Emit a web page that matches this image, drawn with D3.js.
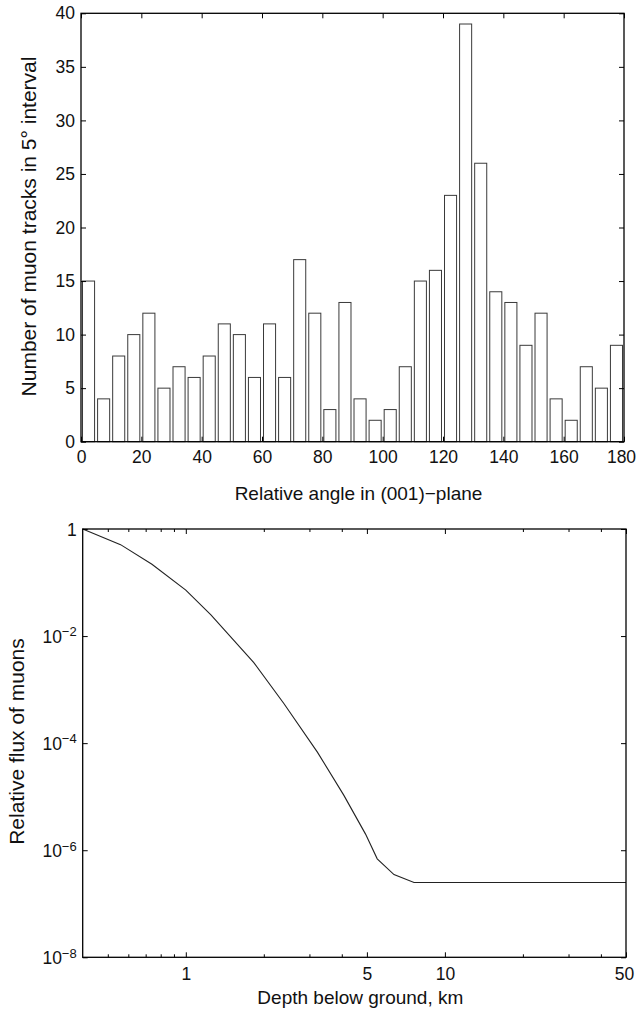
<!DOCTYPE html>
<html>
<head>
<meta charset="utf-8">
<script src="https://cdn.jsdelivr.net/npm/d3@7"></script>
<style>
  html, body { margin: 0; padding: 0; background: #fff; }
  svg { display: block; }
  text { font-family: "Liberation Sans", Arial, Helvetica, sans-serif; fill: #111; }
</style>
</head>
<body>
<svg id="fig" width="637" height="1019"></svg>
<script>
// ---- Histogram: muon tracks per 5° bin of relative angle ----
const binCenters = [2.5, 7.5, 12.5, 17.5, 22.5, 27.5, 32.5, 37.5, 42.5, 47.5, 52.5, 57.5,
                    62.5, 67.5, 72.5, 77.5, 82.5, 87.5, 92.5, 97.5, 102.5, 107.5, 112.5, 117.5,
                    122.5, 127.5, 132.5, 137.5, 142.5, 147.5, 152.5, 157.5, 162.5, 167.5, 172.5, 177.5];
const trackCounts = [15, 4, 8, 10, 12, 5, 7, 6, 8, 11, 10, 6,
                     11, 6, 17, 12, 3, 13, 4, 2, 3, 7, 15, 16,
                     23, 39, 26, 14, 13, 9, 12, 4, 2, 7, 5, 9];
const angleTicks = [0, 20, 40, 60, 80, 100, 120, 140, 160, 180];
const countTicks = [0, 5, 10, 15, 20, 25, 30, 35, 40];

// ---- Muon flux vs depth ----
const depthKm = [0.4, 0.56, 0.74, 1.0, 1.25, 1.83, 2.39, 3.22, 4.07, 4.94, 5.48, 6.36, 7.6, 50];
const relFlux = [1.0, 0.51, 0.22, 0.072, 0.0248, 0.0032, 5.5e-4, 6.8e-5, 1.07e-5, 2.0e-6, 6.9e-7, 3.5e-7, 2.5e-7, 2.5e-7];
const depthMajorTicks = [1, 5, 10, 50];
const depthMinorTicks = [0.5, 0.6, 0.7, 0.8, 0.9, 2, 3, 4, 20, 30, 40];
const fluxTicks = [1, 1e-2, 1e-4, 1e-6, 1e-8];

const svg = d3.select("#fig");
const TICK_FS = 17.5, XLABEL_FS = 19, YLABEL_FS = 21;

function frame(g, x0, x1, y0, y1) {
  g.append("rect")
    .attr("x", x0).attr("y", y0)
    .attr("width", x1 - x0).attr("height", y1 - y0)
    .attr("fill", "none").attr("stroke", "#000").attr("stroke-width", 1.3);
}

function styleAxis(sel) {
  sel.select(".domain").remove();
  sel.selectAll(".tick line").attr("stroke", "#000").attr("stroke-width", 1);
  sel.selectAll(".tick text").attr("font-size", TICK_FS).attr("fill", "#111")
     .attr("font-family", "Liberation Sans, Arial, sans-serif");
}

// keep the rightmost tick label inside the figure edge
function pullLastLabelIn(sel, px) {
  const texts = sel.selectAll(".tick text").nodes();
  if (texts.length) d3.select(texts[texts.length - 1]).attr("dx", -px);
}

// ================= Top panel =================
{
  const L = 81, R = 624, T = 13.3, B = 441.7;
  const x = d3.scaleLinear().domain([0, 180]).range([L, R]);
  const y = d3.scaleLinear().domain([0, 40]).range([B, T]);
  const g = svg.append("g");
  const halfW = 2; // bar half-width in degrees

  g.selectAll("rect.bar")
    .data(binCenters.map((c, i) => ({ c, v: trackCounts[i] })))
    .join("rect")
    .attr("class", "bar")
    .attr("x", d => x(d.c - halfW))
    .attr("width", d => x(d.c + halfW) - x(d.c - halfW))
    .attr("y", d => y(d.v))
    .attr("height", d => y(0) - y(d.v))
    .attr("fill", "#fff")
    .attr("stroke", "#3a3a3a")
    .attr("stroke-width", 1);

  g.append("g").attr("transform", `translate(0,${B})`)
    .call(d3.axisBottom(x).tickValues(angleTicks).tickSize(-5).tickPadding(9))
    .call(styleAxis)
    .call(pullLastLabelIn, 3);
  g.append("g").attr("transform", `translate(0,${T})`)
    .call(d3.axisTop(x).tickValues(angleTicks).tickSize(-5).tickFormat(""))
    .call(styleAxis);
  g.append("g").attr("transform", `translate(${L},0)`)
    .call(d3.axisLeft(y).tickValues(countTicks).tickSize(-5).tickPadding(6))
    .call(styleAxis);
  g.append("g").attr("transform", `translate(${R},0)`)
    .call(d3.axisRight(y).tickValues(countTicks).tickSize(-5).tickFormat(""))
    .call(styleAxis);

  frame(g, L, R, T, B);

  g.append("text")
    .attr("x", (L + R) / 2 + 6).attr("y", 500)
    .attr("text-anchor", "middle").attr("font-size", XLABEL_FS)
    .text("Relative angle in (001)\u2212plane");
  g.append("text")
    .attr("transform", `translate(36,226.5) rotate(-90)`)
    .attr("text-anchor", "middle").attr("font-size", YLABEL_FS)
    .text("Number of muon tracks in 5\u00B0 interval");
}

// ================= Bottom panel =================
{
  const L = 82.7, R = 626, T = 529, B = 957.3;
  const x = d3.scaleLog().domain([0.4, 50]).range([L, R]);
  const y = d3.scaleLog().domain([1e-8, 1]).range([B, T]);
  const g = svg.append("g");

  const line = d3.line()
    .x((d, i) => x(depthKm[i]))
    .y((d, i) => y(relFlux[i]));
  g.append("path")
    .datum(relFlux)
    .attr("d", line)
    .attr("fill", "none")
    .attr("stroke", "#222")
    .attr("stroke-width", 1.1);

  // x axis: major ticks with labels, minor ticks shorter
  g.append("g").attr("transform", `translate(0,${B})`)
    .call(d3.axisBottom(x).tickValues(depthMajorTicks).tickSize(-5).tickPadding(10)
      .tickFormat(d3.format("d")))
    .call(styleAxis)
    .call(pullLastLabelIn, 2);
  g.append("g").attr("transform", `translate(0,${B})`)
    .call(d3.axisBottom(x).tickValues(depthMinorTicks).tickSize(-3).tickFormat(""))
    .call(styleAxis);
  g.append("g").attr("transform", `translate(0,${T})`)
    .call(d3.axisTop(x).tickValues(depthMajorTicks).tickSize(-5).tickFormat(""))
    .call(styleAxis);
  g.append("g").attr("transform", `translate(0,${T})`)
    .call(d3.axisTop(x).tickValues(depthMinorTicks).tickSize(-3).tickFormat(""))
    .call(styleAxis);

  // y axis: powers of ten with superscript exponents
  const yAxis = g.append("g").attr("transform", `translate(${L},0)`)
    .call(d3.axisLeft(y).tickValues(fluxTicks).tickSize(-5).tickPadding(6).tickFormat(""))
    .call(styleAxis);
  yAxis.selectAll(".tick").each(function (d) {
    const t = d3.select(this).select("text");
    const e = Math.round(Math.log10(d));
    t.text(null).attr("dy", null).attr("y", 0).attr("text-anchor", "end");
    if (e === 0) {
      t.append("tspan").attr("dy", "0.36em").text("1");
    } else {
      t.append("tspan").attr("dy", "0.36em").text("10");
      t.append("tspan").attr("dy", "-0.5em").attr("font-size", 13)
        .text("\u2212" + Math.abs(e));
    }
  });
  g.append("g").attr("transform", `translate(${R},0)`)
    .call(d3.axisRight(y).tickValues(fluxTicks).tickSize(-5).tickFormat(""))
    .call(styleAxis);

  frame(g, L, R, T, B);

  g.append("text")
    .attr("x", (L + R) / 2 + 6).attr("y", 1004)
    .attr("text-anchor", "middle").attr("font-size", XLABEL_FS)
    .text("Depth below ground, km");
  g.append("text")
    .attr("transform", `translate(24,741.5) rotate(-90)`)
    .attr("text-anchor", "middle").attr("font-size", YLABEL_FS)
    .text("Relative flux of muons");
}
</script>
</body>
</html>
